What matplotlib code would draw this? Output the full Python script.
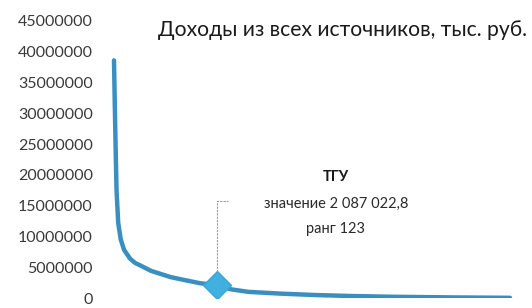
import matplotlib
matplotlib.use("Agg")
import matplotlib.pyplot as plt

plt.rcParams['font.family'] = ['Lato', 'DejaVu Sans']

# values (rank -> income, thousand rub.)
ranks = [1, 2, 3, 4, 6, 9, 13, 20, 26, 32, 45, 68, 85, 103, 123, 140, 160, 200, 240, 280, 330, 400, 440, 470]
income = [38600000, 31000000, 24000000, 17500000, 12200000, 9500000, 7800000, 6400000,
          5700000, 5300000, 4400000, 3400000, 2900000, 2400000, 2087022.8, 1400000, 1000000,
          700000, 480000, 330000, 200000, 100000, 60000, 30000]

tgu_rank = 123
tgu_value = 2087022.8
title = "Доходы из всех источников, тыс. руб."
yticks = list(range(0, 45000001, 5000000))

fig = plt.figure(figsize=(5.32, 3.08), dpi=100)
ax = fig.add_axes([108 / 532, 10 / 308, 414 / 532, 277 / 308])

ax.plot(ranks, income, color="#3a8fc2", lw=3.2, solid_capstyle="round", zorder=2)
ax.plot([tgu_rank], [tgu_value], marker="D", ms=14, color="#3fb0e0",
        markeredgecolor="#3aa6d6", zorder=3)

# leader line from the marker to the label
ax.plot([tgu_rank, tgu_rank, tgu_rank + 13], [tgu_value, 15800000, 15800000],
        color="#9a9a9a", lw=0.8, ls=(0, (2, 1)), zorder=4)

ax.text(0.55, (298 - 177) / 277, "ТГУ", transform=ax.transAxes, ha="center", va="center",
        fontsize=10.5, fontweight="bold", color="#1a1a1a")
ax.text(0.55, (298 - 204) / 277, "значение 2 087 022,8", transform=ax.transAxes,
        ha="center", va="center", fontsize=10.5, color="#2a2a2a")
ax.text(0.55, (298 - 229) / 277, "ранг 123", transform=ax.transAxes,
        ha="center", va="center", fontsize=10.5, color="#2a2a2a")

fig.text(527 / 532, 1 - 30 / 308, title, ha="right", va="center", fontsize=15.2, color="#1a1a1a")

ax.set_xlim(-6.1, 484.2)
ax.set_ylim(0, 45000000)
ax.set_yticks(yticks)
ax.set_yticklabels([str(t) for t in yticks], fontsize=11.5, color="#3a3a3a")
ax.tick_params(axis="y", length=0, pad=11)
ax.set_xticks([])
for s in ax.spines.values():
    s.set_visible(False)

fig.savefig("out.png", dpi=100, facecolor="white")
